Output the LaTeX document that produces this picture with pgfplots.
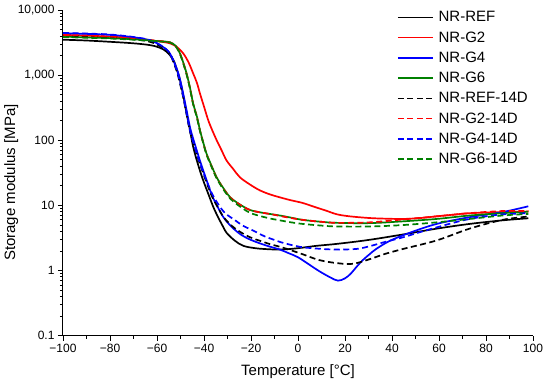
\documentclass[border=0pt]{standalone}
\usepackage{fontspec}
\setmainfont{Liberation Sans}
\usepackage{pgfplots}
\pgfplotsset{compat=1.18}
\definecolor{cred}{RGB}{255,0,0}
\definecolor{cblue}{RGB}{0,0,255}
\definecolor{cgreen}{RGB}{0,128,0}
\begin{document}
\begin{tikzpicture}
\begin{axis}[
 scale only axis, width=470bp, height=325.7bp,
 xmin=-100, xmax=100, ymin=0.1, ymax=10000, ymode=log,
 axis x line*=bottom, axis y line*=left,
 axis line style={line width=1bp},
 xtick={-100,-80,...,100},
 xticklabels={−100,−80,−60,−40,−20,0,20,40,60,80,100},
 minor x tick num=1,
 ytick={0.1,1,10,100,1000,10000},
 yticklabels={0.1,1,10,100,{1,000},{10,000}},
 tick align=outside,
 major tick length=5bp, minor tick length=3bp,
 tick style={black, line width=0.8bp},
 ticklabel style={font=\fontsize{12bp}{14bp}\selectfont},
 xlabel={Temperature [°C]}, ylabel={Storage modulus [MPa]},
 label style={font=\fontsize{15bp}{18bp}\selectfont},
 xlabel style={at={(axis description cs:0.5,-0.1237)},anchor=base},
 ylabel style={at={(axis description cs:-0.102,0.47)},anchor=base},
 legend style={draw=none, fill=none, font=\fontsize{15bp}{18bp}\selectfont,
   at={(axis description cs:0.71,0.999)}, anchor=north west,
   inner sep=0pt, row sep=6.3bp, column sep=4bp, nodes={inner sep=1bp}},
 legend cell align=left,
 legend image code/.code={\draw[#1,line width=1.7bp] (0bp,0bp) -- (35bp,0bp);},
 every axis plot/.append style={line width=1.7bp, no marks, smooth, tension=0.55},
]
% NR-REF
\addplot[black] coordinates {(-100,3500) (-90,3400) (-80,3250) (-70,3080) (-63,2890) (-59,2650) (-55.9,2290) (-53,1700) (-51.5,1200) (-50.2,840) (-48.8,480) (-47.4,258) (-46,145) (-44.6,79) (-42.5,42) (-40.3,24) (-38,14.5) (-36,9.4) (-34,6.6) (-32,4.8) (-30.4,3.8) (-27,2.9) (-23.3,2.4) (-18,2.2) (-12,2.12) (-7.7,2.1) (-3,2.15) (2,2.25) (8,2.4) (16.6,2.57) (30,2.95) (45,3.6) (59,4.4) (73,5.2) (87,5.9) (98,6.35)};
\addlegendentry{NR-REF}
% NR-G2
\addplot[cred] coordinates {(-100,4150) (-90,4050) (-80,3900) (-70,3700) (-63,3450) (-58,3250) (-54.5,3080) (-51.5,2700) (-48.8,2150) (-46.5,1550) (-44.6,1060) (-43,760) (-41.7,520) (-40,330) (-38.2,203) (-36.4,140) (-34.6,100) (-32.5,70) (-30.4,49) (-27.5,36) (-24.7,27) (-20.5,21) (-16.2,17) (-12,14.8) (-7.7,13.3) (-3,12.0) (2,10.9) (7,9.5) (12,8.3) (16.6,7.3) (22,6.8) (30.6,6.4) (38,6.25) (44.8,6.2) (52,6.4) (59,6.8) (66,7.2) (73,7.6) (87,7.9) (98,8.05)};
\addlegendentry{NR-G2}
% NR-G4
\addplot[cblue] coordinates {(-100,4400) (-90,4300) (-80,4150) (-70,3820) (-63,3420) (-58,2800) (-54.5,2150) (-51.4,1200) (-50,800) (-48.6,470) (-47.2,265) (-45.8,150) (-43.8,85) (-41.5,46) (-39,25) (-36.5,14) (-34,9.2) (-31.5,6.4) (-28,4.6) (-24,3.5) (-20,2.95) (-16,2.6) (-12,2.33) (-7.7,2.1) (-4,1.85) (0,1.6) (5,1.22) (9,0.98) (13.6,0.79) (17,0.70) (20,0.76) (22.5,0.9) (25,1.15) (27.6,1.45) (30.6,1.8) (33.3,2.15) (39,2.85) (47.5,3.8) (59,5.2) (73,6.6) (87,7.9) (98,9.7)};
\addlegendentry{NR-G4}
% NR-G6
\addplot[cgreen] coordinates {(-100,3900) (-90,3800) (-80,3700) (-70,3550) (-63,3400) (-58,3300) (-54.5,3200) (-52,2800) (-50.2,2150) (-48.8,1550) (-47.4,1060) (-46,650) (-44.6,366) (-43,230) (-41.7,142) (-40.3,92) (-38.9,62) (-36.7,40) (-34.6,27) (-32,19) (-28.9,13.4) (-25,10.5) (-20.4,8.5) (-15,7.7) (-12,7.4) (-7.7,7.0) (-3,6.5) (2,6.0) (10,5.6) (16.6,5.4) (30.6,5.35) (44.8,5.7) (59,6.2) (73,7.0) (87,7.6) (98,8.0)};
\addlegendentry{NR-G6}
% NR-REF-14D
\addplot[black, dash pattern=on 6bp off 3.5bp] coordinates {(-100,4050) (-90,3950) (-80,3800) (-70,3550) (-63,3250) (-58,2700) (-54.5,2100) (-51.6,1150) (-50.2,740) (-48.8,450) (-47.4,250) (-46,140) (-44,78) (-41.7,43) (-39,23) (-36.7,14) (-34,9.2) (-31.5,6.5) (-28,4.8) (-24,3.8) (-20,3.2) (-16,2.85) (-12,2.55) (-7.7,2.32) (-3,2.05) (2,1.78) (9,1.45) (16.6,1.3) (23.4,1.27) (30.6,1.5) (37,1.8) (44.8,2.15) (59,2.9) (73,4.4) (87,6.0) (98,6.75)};
\addlegendentry{NR-REF-14D}
% NR-G2-14D
\addplot[cred, dash pattern=on 6bp off 3.5bp] coordinates {(-100,4150) (-90,4050) (-80,3900) (-70,3700) (-63,3450) (-58,3320) (-54.5,3180) (-52,2780) (-50.2,2130) (-48.8,1530) (-47.4,1040) (-46,640) (-44.6,360) (-43,226) (-41.7,140) (-40.3,91) (-38.9,61) (-36.7,39) (-34.6,26.5) (-32,18.7) (-28.9,13.3) (-25,10.4) (-20.4,8.5) (-15,7.7) (-12,7.4) (-5,6.6) (2,6.0) (10,5.6) (16.6,5.4) (30.6,5.5) (44.8,6.1) (59,6.8) (73,7.6) (87,8.2) (98,8.2)};
\addlegendentry{NR-G2-14D}
% NR-G4-14D
\addplot[cblue, dash pattern=on 6bp off 3.5bp] coordinates {(-100,4450) (-90,4350) (-80,4200) (-70,3850) (-63,3450) (-58,2800) (-54.5,2150) (-51.6,1200) (-50.2,780) (-48.8,465) (-47.4,260) (-46,142) (-44,80) (-41.7,44) (-39,24.5) (-36.7,15.5) (-34,10.5) (-31,7.6) (-27,6.0) (-23.5,4.9) (-19,4.1) (-16,3.6) (-13.3,3.25) (-10,2.95) (-7.7,2.75) (-3,2.48) (2,2.28) (10,2.15) (16.6,2.1) (25,2.15) (30.6,2.37) (37,2.75) (44.8,3.25) (52,3.9) (59,4.6) (66,5.4) (73,6.2) (80,6.8) (87,7.3) (98,7.6)};
\addlegendentry{NR-G4-14D}
% NR-G6-14D
\addplot[cgreen, dash pattern=on 6bp off 3.5bp] coordinates {(-100,3850) (-90,3750) (-80,3650) (-70,3500) (-63,3380) (-58,3280) (-54.5,3170) (-52,2760) (-50.2,2100) (-48.8,1500) (-47.4,1020) (-46,630) (-44.6,355) (-43,222) (-41.7,138) (-40.3,90) (-38.9,60) (-36.7,38.5) (-34.6,26) (-32,18.2) (-28.9,12.8) (-25,9.8) (-20.4,7.7) (-15,6.7) (-12,6.3) (-7.7,5.9) (-3,5.5) (2,5.2) (10,4.9) (16.6,4.75) (30.6,4.75) (44.8,5.0) (59,5.5) (73,6.2) (87,7.0) (98,7.4)};
\addlegendentry{NR-G6-14D}
\end{axis}
\pgfresetboundingbox
\path[use as bounding box] ([xshift=-63bp,yshift=-47.3bp]current axis.south west) rectangle ++(550bp,383bp);
\end{tikzpicture}
\end{document}
